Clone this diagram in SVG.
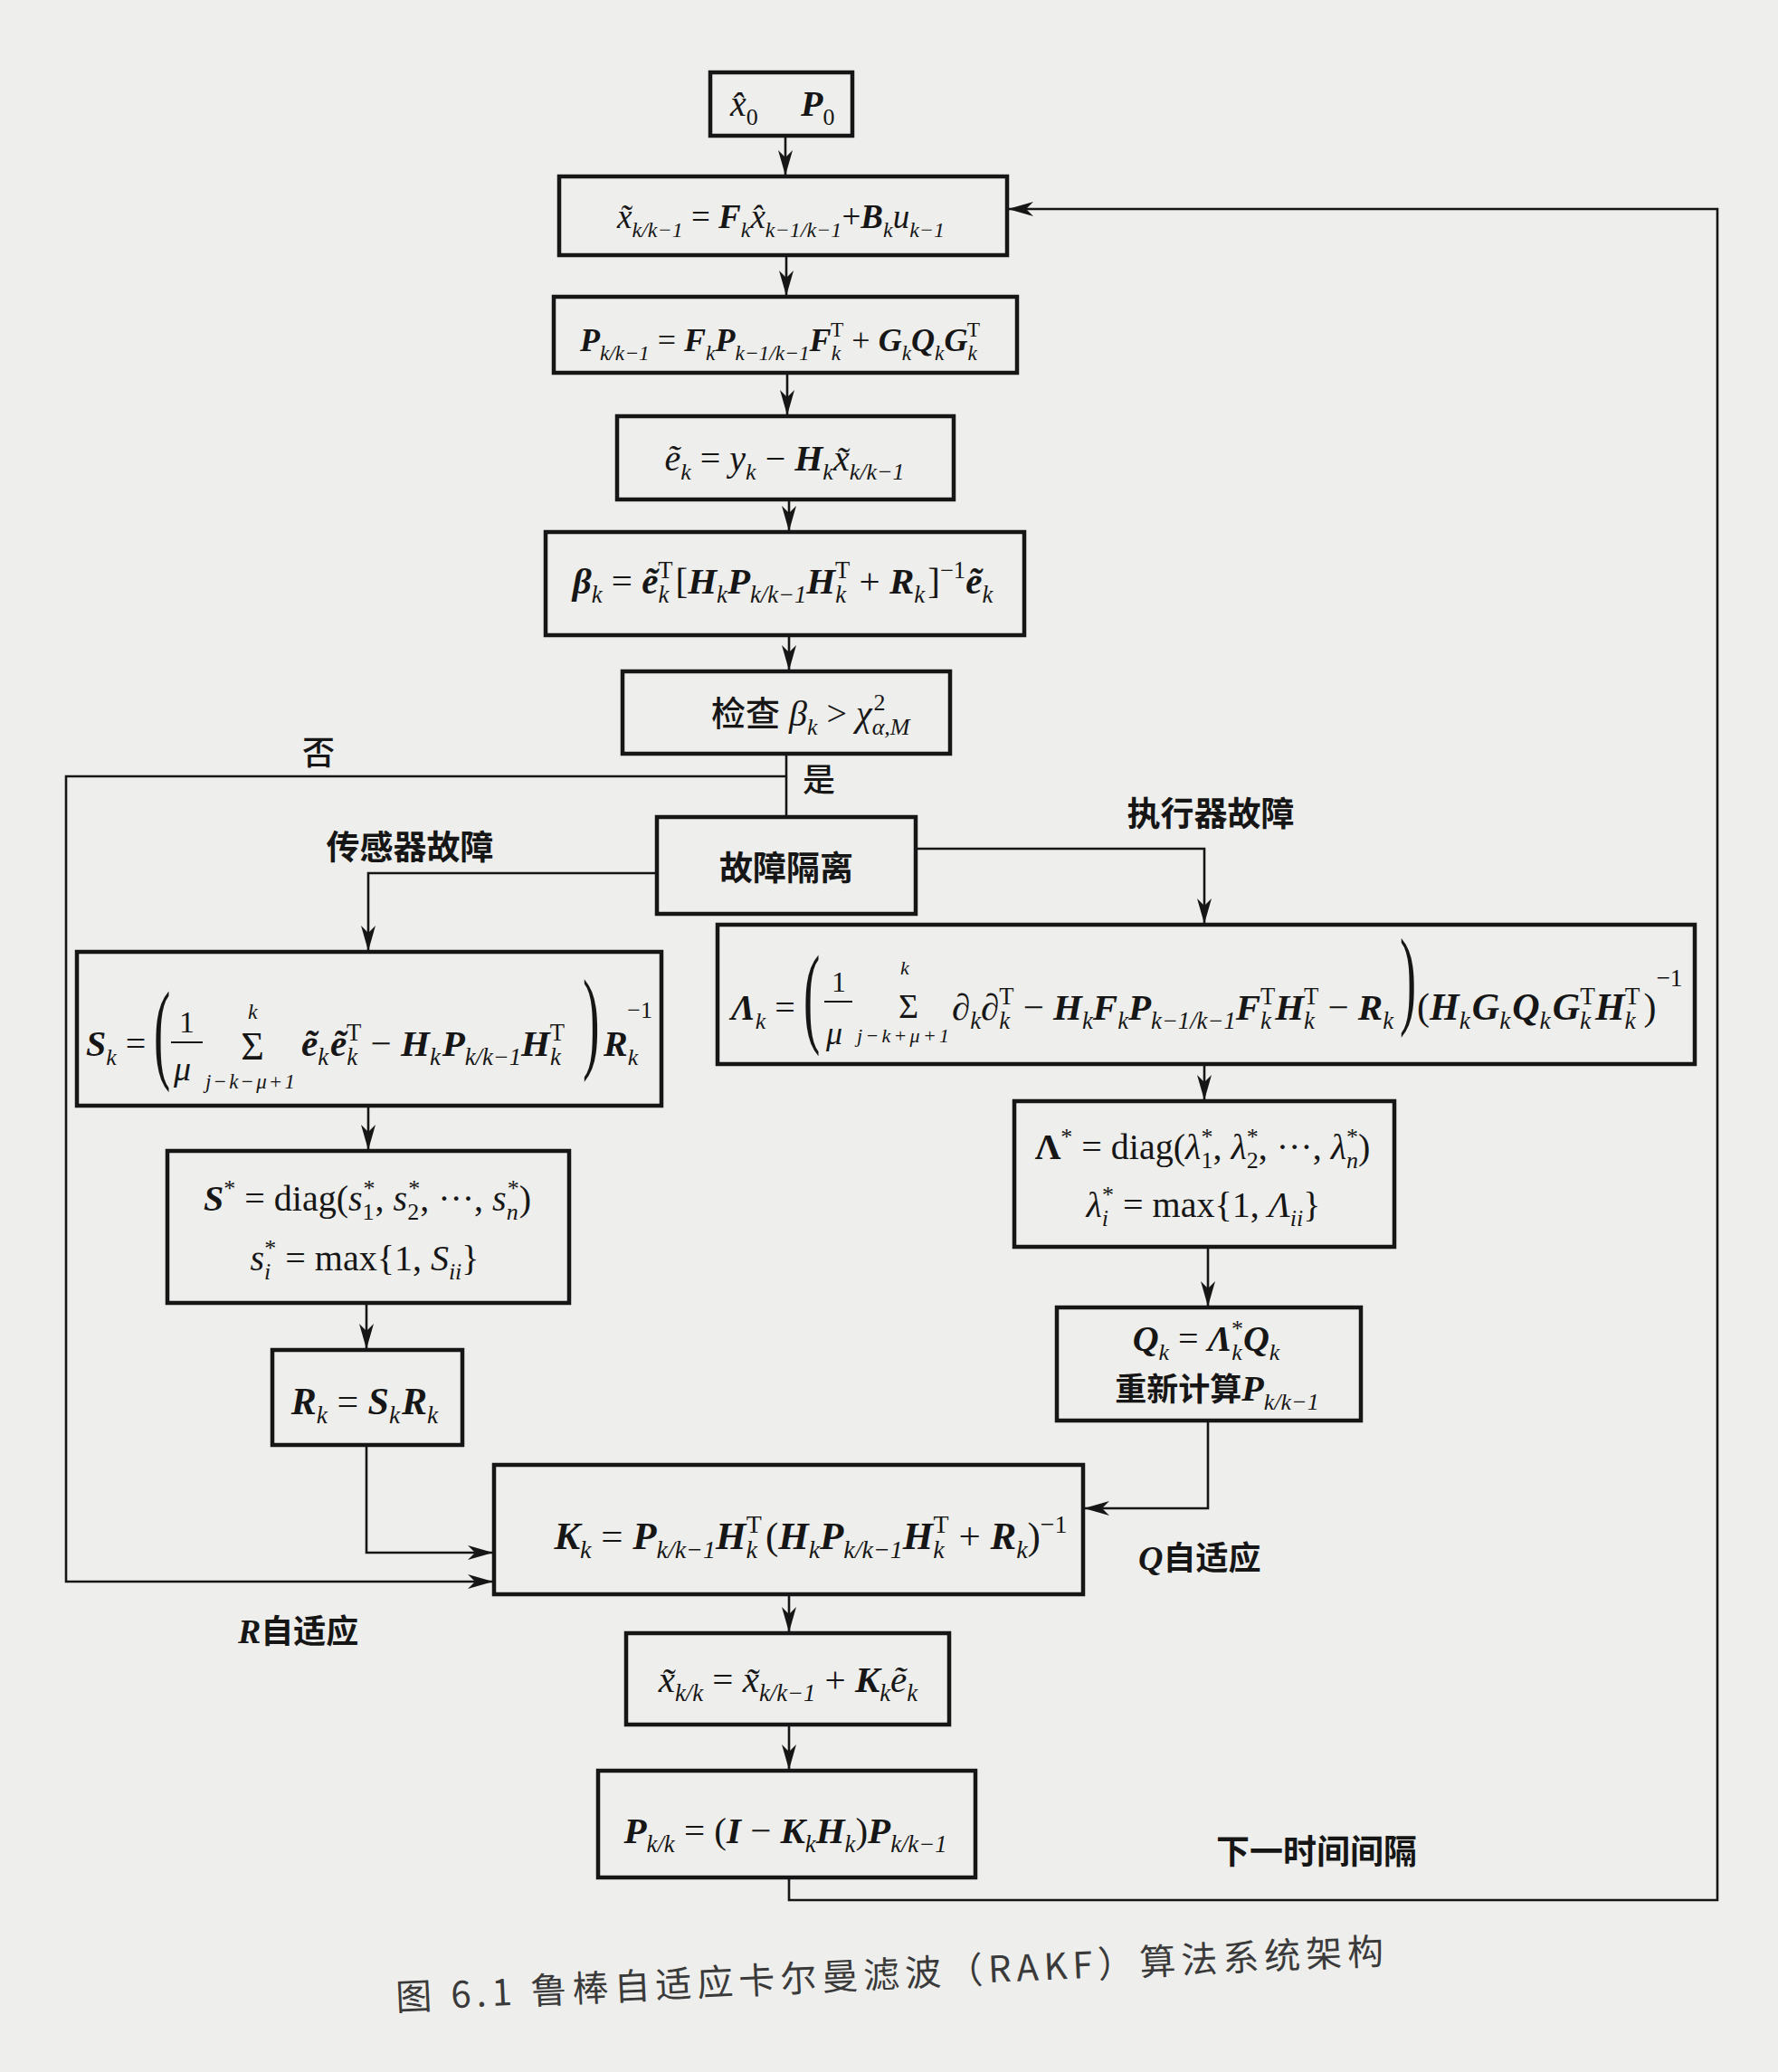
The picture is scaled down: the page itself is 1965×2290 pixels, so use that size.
<svg xmlns="http://www.w3.org/2000/svg" width="1965" height="2290" viewBox="0 0 1965 2290">
<style>
.bx{fill:none;stroke:#161616;stroke-width:4.5}
.cn{fill:none;stroke:#161616;stroke-width:2.6}
.f{font-family:"Liberation Serif","Times New Roman",serif;font-size:40px;fill:#161616}
.b{font-weight:bold;font-style:italic}
.i{font-style:italic}
.s{font-size:0.65em;font-style:italic;font-weight:normal}
.n{font-size:0.65em;font-style:normal;font-weight:normal}
.c{font-family:"Noto Sans CJK SC",sans-serif;font-weight:bold;fill:#161616;font-style:normal}
.cap{font-family:"Noto Sans CJK SC",sans-serif;font-size:40px;fill:#3a3a3a;letter-spacing:6px}
</style>
<defs>
<marker id="ah" markerUnits="userSpaceOnUse" markerWidth="28" markerHeight="16" refX="27" refY="8" orient="auto"><path d="M0,0 L28,8 L0,16 L8,8 z" fill="#161616"/></marker>
</defs>
<rect x="0" y="0" width="1965" height="2290" fill="#eeeeec"/>

<g id="connectors">
<path class="cn" d="M868,150 V193" marker-end="url(#ah)"/>
<path class="cn" d="M869,282 V326" marker-end="url(#ah)"/>
<path class="cn" d="M870,412 V458" marker-end="url(#ah)"/>
<path class="cn" d="M872,552 V586" marker-end="url(#ah)"/>
<path class="cn" d="M872,702 V740" marker-end="url(#ah)"/>
<path class="cn" d="M869,833 V903"/>
<path class="cn" d="M869,858 H73 V1748 H544" marker-end="url(#ah)"/>
<path class="cn" d="M726,965 H407 V1050" marker-end="url(#ah)"/>
<path class="cn" d="M1012,938 H1331 V1020" marker-end="url(#ah)"/>
<path class="cn" d="M407,1222 V1270" marker-end="url(#ah)"/>
<path class="cn" d="M405,1440 V1490" marker-end="url(#ah)"/>
<path class="cn" d="M405,1597 V1716 H544" marker-end="url(#ah)"/>
<path class="cn" d="M1331,1176 V1215" marker-end="url(#ah)"/>
<path class="cn" d="M1335,1378 V1443" marker-end="url(#ah)"/>
<path class="cn" d="M1335,1570 V1667 H1199" marker-end="url(#ah)"/>
<path class="cn" d="M872,1762 V1803" marker-end="url(#ah)"/>
<path class="cn" d="M872,1906 V1955" marker-end="url(#ah)"/>
<path class="cn" d="M872,2075 V2100 H1898 V231 H1115" marker-end="url(#ah)"/>
<line class="cn" x1="189" y1="1152" x2="224" y2="1152" style="stroke-width:2"/>
<line class="cn" x1="911" y1="1107" x2="942" y2="1107" style="stroke-width:2"/>
</g>

<g id="init">
<rect class="bx" x="785" y="80" width="157" height="70"/>
<text class="f" x="807" y="128"><tspan class="i">x&#x302;</tspan><tspan class="n" dy="10">0</tspan><tspan class="b" x="885" dy="-10">P</tspan><tspan class="n" dy="10">0</tspan></text>
</g>

<g id="predict-state">
<rect class="bx" x="618" y="195" width="495" height="87"/>
<text class="f" x="863" y="252" text-anchor="middle" style="font-size:37px"><tspan class="i">x&#x303;</tspan><tspan class="s" dy="10">k/k−1</tspan><tspan dy="-10"> = </tspan><tspan class="b">F</tspan><tspan class="s" dy="10">k</tspan><tspan class="i" dy="-10">x&#x302;</tspan><tspan class="s" dy="10">k−1/k−1</tspan><tspan dy="-10">+</tspan><tspan class="b">B</tspan><tspan class="s" dy="10">k</tspan><tspan class="i" dy="-10">u</tspan><tspan class="s" dy="10">k−1</tspan></text>
</g>

<g id="predict-cov">
<rect class="bx" x="612" y="328" width="512" height="84"/>
<text class="f" x="862" y="388" text-anchor="middle" style="font-size:36px"><tspan class="b">P</tspan><tspan class="s" dy="10">k/k−1</tspan><tspan dy="-10"> = </tspan><tspan class="b">F</tspan><tspan class="s" dy="10">k</tspan><tspan class="b" dy="-10">P</tspan><tspan class="s" dy="10">k−1/k−1</tspan><tspan class="b" dy="-10">F</tspan><tspan class="s" dy="10">k</tspan><tspan class="n" dx="-11" dy="-26">T</tspan><tspan dy="16"> + </tspan><tspan class="b">G</tspan><tspan class="s" dy="10">k</tspan><tspan class="b" dy="-10">Q</tspan><tspan class="s" dy="10">k</tspan><tspan class="b" dy="-10">G</tspan><tspan class="s" dy="10">k</tspan><tspan class="n" dx="-11" dy="-26">T</tspan></text>
</g>

<g id="innovation">
<rect class="bx" x="682" y="460" width="372" height="92"/>
<text class="f" x="867" y="520" text-anchor="middle"><tspan class="i">e&#x303;</tspan><tspan class="s" dy="10">k</tspan><tspan dy="-10"> = </tspan><tspan class="i">y</tspan><tspan class="s" dy="10">k</tspan><tspan dy="-10"> − </tspan><tspan class="b">H</tspan><tspan class="s" dy="10">k</tspan><tspan class="i" dy="-10">x&#x303;</tspan><tspan class="s" dy="10">k/k−1</tspan></text>
</g>

<g id="beta">
<rect class="bx" x="603" y="588" width="529" height="114"/>
<text class="f" x="865" y="656" text-anchor="middle" style="font-size:41px"><tspan class="b">β</tspan><tspan class="s" dy="10">k</tspan><tspan dy="-10"> = </tspan><tspan class="b">e&#x303;</tspan><tspan class="s" dy="10">k</tspan><tspan class="n" dx="-12" dy="-27">T</tspan><tspan dy="17" dx="3">[</tspan><tspan class="b">H</tspan><tspan class="s" dy="10">k</tspan><tspan class="b" dy="-10">P</tspan><tspan class="s" dy="10">k/k−1</tspan><tspan class="b" dy="-10">H</tspan><tspan class="s" dy="10">k</tspan><tspan class="n" dx="-12" dy="-27">T</tspan><tspan dy="17"> + </tspan><tspan class="b">R</tspan><tspan class="s" dy="10">k</tspan><tspan dy="-10" dx="3">]</tspan><tspan class="n" dy="-17">−1</tspan><tspan class="b" dy="17">e&#x303;</tspan><tspan class="s" dy="10">k</tspan></text>
</g>

<g id="check">
<rect class="bx" x="688" y="742" width="362" height="91"/>
<text class="f" x="786" y="802"><tspan class="c" style="font-weight:500;font-size:38px">检查</tspan><tspan class="i"> β</tspan><tspan class="s" dy="10">k</tspan><tspan dy="-10"> &gt; </tspan><tspan class="i">χ</tspan><tspan class="s" dy="10">α,M</tspan><tspan class="n" dx="-40" dy="-27">2</tspan></text>
</g>

<g id="isolate">
<rect class="bx" x="726" y="903" width="286" height="107"/>
<text class="c" x="869" y="973" text-anchor="middle" font-size="37">故障隔离</text>
</g>

<g id="s-matrix">
<rect class="bx" x="85" y="1052" width="646" height="170"/>
<text class="f" x="95" y="1167"><tspan class="b">S</tspan><tspan class="s" dy="10">k</tspan><tspan dy="-10"> =</tspan></text>
<text class="f" transform="translate(170,1181) scale(0.45,1)" style="font-size:122px">(</text>
<text class="f" x="198" y="1141" style="font-size:34px">1</text>
<text class="f i" x="192" y="1194" style="font-size:38px">μ</text>
<text class="f" x="279" y="1171" text-anchor="middle" style="font-size:44px">Σ</text>
<text class="f i" x="274" y="1126" style="font-size:24px">k</text>
<text class="f i" x="227" y="1203" style="font-size:23px" textLength="99" lengthAdjust="spacing">j−k−μ+1</text>
<text class="f" x="333" y="1167" style="font-size:41px"><tspan class="b">e&#x303;</tspan><tspan class="s" dy="10">k</tspan><tspan class="b" dy="-10" dx="2">e&#x303;</tspan><tspan class="s" dy="10">k</tspan><tspan class="n" dx="-12" dy="-27">T</tspan><tspan dy="17"> − </tspan><tspan class="b">H</tspan><tspan class="s" dy="10">k</tspan><tspan class="b" dy="-10" dx="2">P</tspan><tspan class="s" dy="10">k/k−1</tspan><tspan class="b" dy="-10">H</tspan><tspan class="s" dy="10">k</tspan><tspan class="n" dx="-12" dy="-27">T</tspan></text>
<text class="f" transform="translate(644,1169) scale(0.45,1)" style="font-size:124px">)</text>
<text class="f" x="667" y="1167"><tspan class="b">R</tspan><tspan class="s" dy="10">k</tspan><tspan class="n" dx="-12" dy="-52">−1</tspan></text>
</g>

<g id="lambda-matrix">
<rect class="bx" x="793" y="1022" width="1080" height="154"/>
<text class="f" x="808" y="1127"><tspan class="b">Λ</tspan><tspan class="s" dy="10">k</tspan><tspan dy="-10"> =</tspan></text>
<text class="f" transform="translate(888,1141) scale(0.45,1)" style="font-size:122px">(</text>
<text class="f" x="919" y="1096" style="font-size:32px">1</text>
<text class="f i" x="913" y="1154" style="font-size:36px">μ</text>
<text class="f" x="1004" y="1125" text-anchor="middle" style="font-size:38px">Σ</text>
<text class="f i" x="995" y="1077" style="font-size:22px">k</text>
<text class="f i" x="947" y="1152" style="font-size:22px" textLength="102" lengthAdjust="spacing">j−k+μ+1</text>
<text class="f" x="1052" y="1127" style="font-size:41px"><tspan class="b">∂</tspan><tspan class="s" dy="10">k</tspan><tspan class="b" dy="-10">∂</tspan><tspan class="s" dy="10">k</tspan><tspan class="n" dx="-12" dy="-27">T</tspan><tspan dy="17"> − </tspan><tspan class="b">H</tspan><tspan class="s" dy="10">k</tspan><tspan class="b" dy="-10">F</tspan><tspan class="s" dy="10">k</tspan><tspan class="b" dy="-10">P</tspan><tspan class="s" dy="10">k−1/k−1</tspan><tspan class="b" dy="-10">F</tspan><tspan class="s" dy="10">k</tspan><tspan class="n" dx="-12" dy="-27">T</tspan><tspan class="b" dy="17">H</tspan><tspan class="s" dy="10">k</tspan><tspan class="n" dx="-12" dy="-27">T</tspan><tspan dy="17"> − </tspan><tspan class="b">R</tspan><tspan class="s" dy="10">k</tspan></text>
<text class="f" transform="translate(1547,1121) scale(0.45,1)" style="font-size:121px">)</text>
<text class="f" x="1566" y="1127" style="font-size:42px"><tspan>(</tspan><tspan class="b">H</tspan><tspan class="s" dy="10">k</tspan><tspan class="b" dy="-10" dx="2">G</tspan><tspan class="s" dy="10">k</tspan><tspan class="b" dy="-10" dx="2">Q</tspan><tspan class="s" dy="10">k</tspan><tspan class="b" dy="-10" dx="2">G</tspan><tspan class="s" dy="10">k</tspan><tspan class="n" dx="-12" dy="-27">T</tspan><tspan class="b" dy="17">H</tspan><tspan class="s" dy="10">k</tspan><tspan class="n" dx="-12" dy="-27">T</tspan><tspan dy="17" dx="4">)</tspan><tspan class="n" dy="-37">−1</tspan></text>
</g>

<g id="s-star">
<rect class="bx" x="185" y="1272" width="444" height="168"/>
<text class="f" x="406" y="1338" text-anchor="middle"><tspan class="b">S</tspan><tspan class="n" dy="-16">*</tspan><tspan dy="16"> = diag(</tspan><tspan class="i">s</tspan><tspan class="n" dy="10">1</tspan><tspan class="n" dx="-12" dy="-26">*</tspan><tspan dy="16">, </tspan><tspan class="i">s</tspan><tspan class="n" dy="10">2</tspan><tspan class="n" dx="-12" dy="-26">*</tspan><tspan dy="16">, ···, </tspan><tspan class="i">s</tspan><tspan class="s" dy="10">n</tspan><tspan class="n" dx="-12" dy="-26">*</tspan><tspan dy="16">)</tspan></text>
<text class="f" x="403" y="1404" text-anchor="middle"><tspan class="i">s</tspan><tspan class="s" dy="10">i</tspan><tspan class="n" dx="-7" dy="-26">*</tspan><tspan dy="16"> = max{1, </tspan><tspan class="i">S</tspan><tspan class="s" dy="10">ii</tspan><tspan dy="-10">}</tspan></text>
</g>

<g id="r-update">
<rect class="bx" x="301" y="1492" width="210" height="105"/>
<text class="f" x="403" y="1563" text-anchor="middle" style="font-size:42px"><tspan class="b">R</tspan><tspan class="s" dy="10">k</tspan><tspan dy="-10"> = </tspan><tspan class="b">S</tspan><tspan class="s" dy="10">k</tspan><tspan class="b" dy="-10" dx="2">R</tspan><tspan class="s" dy="10">k</tspan></text>
</g>

<g id="lambda-star">
<rect class="bx" x="1121" y="1217" width="420" height="161"/>
<text class="f" x="1329" y="1281" text-anchor="middle"><tspan font-weight="bold">Λ</tspan><tspan class="n" dy="-16">*</tspan><tspan dy="16"> = diag(</tspan><tspan class="i">λ</tspan><tspan class="n" dy="10">1</tspan><tspan class="n" dx="-13" dy="-26">*</tspan><tspan dy="16">, </tspan><tspan class="i">λ</tspan><tspan class="n" dy="10">2</tspan><tspan class="n" dx="-13" dy="-26">*</tspan><tspan dy="16">, ···, </tspan><tspan class="i">λ</tspan><tspan class="s" dy="10">n</tspan><tspan class="n" dx="-13" dy="-26">*</tspan><tspan dy="16">)</tspan></text>
<text class="f" x="1330" y="1345" text-anchor="middle"><tspan class="i">λ</tspan><tspan class="s" dy="10">i</tspan><tspan class="n" dx="-7" dy="-26">*</tspan><tspan dy="16"> = max{1, </tspan><tspan class="i">Λ</tspan><tspan class="s" dy="10">ii</tspan><tspan dy="-10">}</tspan></text>
</g>

<g id="q-update">
<rect class="bx" x="1168" y="1445" width="336" height="125"/>
<text class="f" x="1333" y="1493" text-anchor="middle"><tspan class="b">Q</tspan><tspan class="s" dy="10">k</tspan><tspan dy="-10"> = </tspan><tspan class="b">Λ</tspan><tspan class="s" dy="10">k</tspan><tspan class="n" dx="-12" dy="-26">*</tspan><tspan class="b" dy="16">Q</tspan><tspan class="s" dy="10">k</tspan></text>
<text class="f" x="1345" y="1548" text-anchor="middle"><tspan class="c" style="font-size:35px">重新计算</tspan><tspan class="b">P</tspan><tspan class="s" dy="10">k/k−1</tspan></text>
</g>

<g id="gain">
<rect class="bx" x="546" y="1619" width="651" height="143"/>
<text class="f" x="896" y="1712" text-anchor="middle" style="font-size:43px"><tspan class="b">K</tspan><tspan class="s" dy="10">k</tspan><tspan dy="-10"> = </tspan><tspan class="b">P</tspan><tspan class="s" dy="10">k/k−1</tspan><tspan class="b" dy="-10">H</tspan><tspan class="s" dy="10">k</tspan><tspan class="n" dx="-12" dy="-28">T</tspan><tspan dy="18" dx="4">(</tspan><tspan class="b">H</tspan><tspan class="s" dy="10">k</tspan><tspan class="b" dy="-10">P</tspan><tspan class="s" dy="10">k/k−1</tspan><tspan class="b" dy="-10">H</tspan><tspan class="s" dy="10">k</tspan><tspan class="n" dx="-12" dy="-28">T</tspan><tspan dy="18"> + </tspan><tspan class="b">R</tspan><tspan class="s" dy="10">k</tspan><tspan dy="-10">)</tspan><tspan class="n" dy="-18">−1</tspan></text>
</g>

<g id="update-state">
<rect class="bx" x="692" y="1805" width="357" height="101"/>
<text class="f" x="871" y="1870" text-anchor="middle" style="font-size:41px"><tspan class="i">x&#x303;</tspan><tspan class="s" dy="10">k/k</tspan><tspan dy="-10"> = </tspan><tspan class="i">x&#x303;</tspan><tspan class="s" dy="10">k/k−1</tspan><tspan dy="-10"> + </tspan><tspan class="b">K</tspan><tspan class="s" dy="10">k</tspan><tspan class="i" dy="-10">e&#x303;</tspan><tspan class="s" dy="10">k</tspan></text>
</g>

<g id="update-cov">
<rect class="bx" x="661" y="1957" width="417" height="118"/>
<text class="f" x="868" y="2037" text-anchor="middle" style="font-size:41px"><tspan class="b">P</tspan><tspan class="s" dy="10">k/k</tspan><tspan dy="-10"> = (</tspan><tspan class="b">I</tspan><tspan> − </tspan><tspan class="b">K</tspan><tspan class="s" dy="10">k</tspan><tspan class="b" dy="-10">H</tspan><tspan class="s" dy="10">k</tspan><tspan dy="-10">)</tspan><tspan class="b">P</tspan><tspan class="s" dy="10">k/k−1</tspan></text>
</g>

<g id="labels">
<text class="c" x="352" y="845" text-anchor="middle" font-size="36" style="font-weight:500">否</text>
<text class="c" x="905" y="875" text-anchor="middle" font-size="36" style="font-weight:500">是</text>
<text class="c" x="453" y="950" text-anchor="middle" font-size="37">传感器故障</text>
<text class="c" x="1338" y="913" text-anchor="middle" font-size="37">执行器故障</text>
<text class="f" x="263" y="1816"><tspan class="b" style="font-size:38px">R</tspan><tspan class="c" style="font-size:36px">自适应</tspan></text>
<text class="f" x="1258" y="1735"><tspan class="b" style="font-size:38px">Q</tspan><tspan class="c" style="font-size:36px">自适应</tspan></text>
<text class="c" x="1455" y="2060" text-anchor="middle" font-size="37">下一时间间隔</text>
</g>

<g id="caption" transform="rotate(-2.7 438 2222)">
<text class="cap" x="438" y="2222">图 6.1  鲁棒自适应卡尔曼滤波（RAKF）算法系统架构</text>
</g>
</svg>
